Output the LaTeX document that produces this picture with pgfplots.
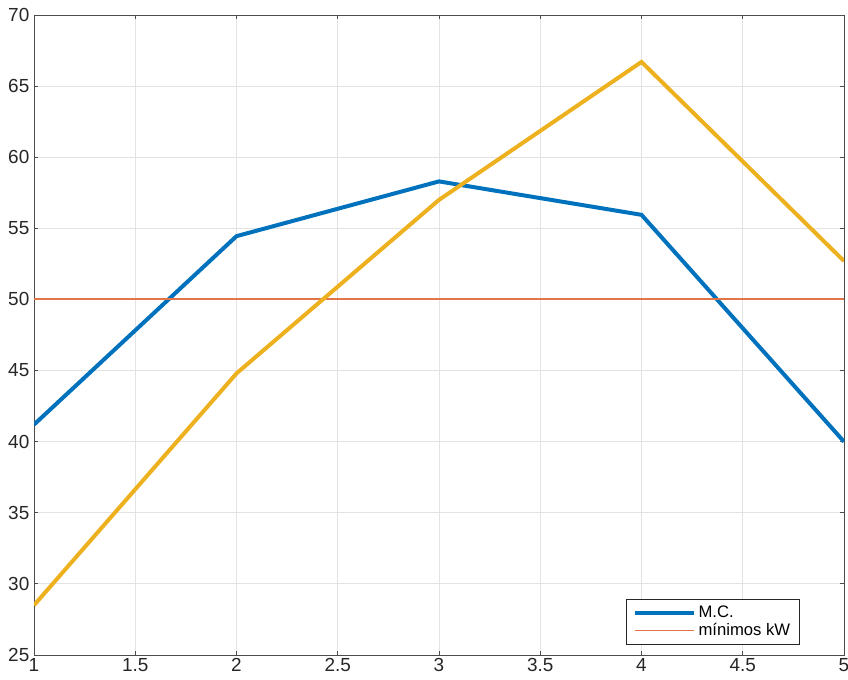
\documentclass[border=0pt]{standalone}
\usepackage{pgfplots}
\pgfplotsset{compat=1.18}
\usepackage{fontspec}
\setmainfont{Liberation Sans}
\definecolor{mblue}{RGB}{0,114,189}
\definecolor{myellow}{RGB}{237,177,32}
\definecolor{morange}{RGB}{217,83,25}
\begin{document}
\begin{tikzpicture}
\begin{axis}[
  name=ax,
  scale only axis,
  width=607.5pt, height=480pt,
  xmin=1, xmax=5, ymin=25, ymax=70,
  xtick={1,1.5,...,5}, ytick={25,30,...,70},
  xticklabels={1,1.5,2,2.5,3,3.5,4,4.5,5},
  /pgf/number format/assume math mode=true,
  tick label style={font=\fontsize{14.2}{16}\selectfont, text=black!85},
  xticklabel style={yshift=1pt},
  grid=major,
  major grid style={gray!22, line width=0.6pt},
  axis line style={black!70, line width=0.7pt},
  tick style={black!70, line width=0.6pt},
  tick align=inside,
  major tick length=3pt,
  legend style={at={(1,0)}, anchor=south east, xshift=-33pt, yshift=7.5pt,
    font=\fontsize{12.5}{14}\selectfont, draw=black!85, line width=0.7pt,
    inner xsep=5pt, inner ysep=3pt, row sep=-1pt, cells={anchor=west}},
  legend cell align=left,
  legend image code/.code={\draw[#1] (0pt,0pt) -- (44pt,0pt);},
]
\addplot[mblue, line width=3pt] coordinates {(1,41.2) (2,54.45) (3,58.3) (4,55.95) (5,40.0)};
\addlegendentry{M.C.}
\addplot[draw=morange!80, line width=1.1pt] coordinates {(1,50.02) (5,50.02)};
\addlegendentry{mínimos kW}
\addplot[myellow, line width=3pt, forget plot] coordinates {(1,28.5) (2,44.8) (3,57.0) (4,66.7) (5,52.7)};
\end{axis}
\pgfresetboundingbox
\path (ax.south west) ++(-25.5pt,-18pt) coordinate (bl);
\path (ax.north east) ++(3pt,11.25pt) coordinate (tr);
\path[use as bounding box] (bl) rectangle (tr);
\end{tikzpicture}
\end{document}
